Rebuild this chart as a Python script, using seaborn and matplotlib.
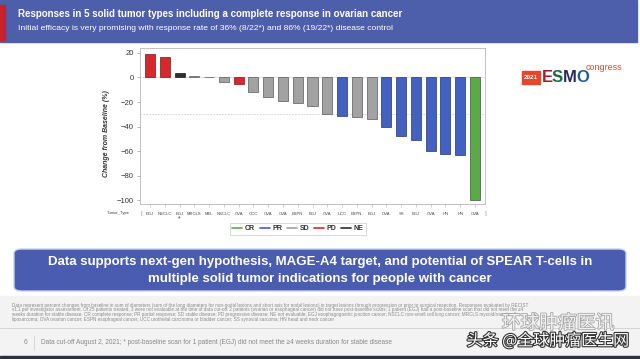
import matplotlib
matplotlib.use('Agg')
import matplotlib.pyplot as plt
import matplotlib.patches as mpatches
import matplotlib.patheffects as pe
from matplotlib.lines import Line2D
import pandas as pd
import seaborn as sns

# Dados (variação percentual vs baseline)
tumor_types = ['EGJ', 'NSCLC', 'EGJ', 'MRCLS', 'MEL', 'NSCLC', 'OVA', 'OCC', 'OVA', 'OVA', 'ESPN',
               'EGJ', 'OVA', 'UCC', 'ESPN', 'EGJ', 'OVA', 'SS', 'EGJ', 'OVA', 'HN', 'HN', 'OVA']
change = [19, 17, 3.5, 1.2, 0, -4, -5.5, -12, -16, -19, -20.5,
          -23.5, -29.5, -31, -32, -34, -40.5, -48, -51, -60, -62.5, -63, -99.5]
response = ['PD', 'PD', 'NE', 'SD', 'SD', 'SD', 'PD', 'SD', 'SD', 'SD', 'SD',
            'SD', 'SD', 'PR', 'SD', 'SD', 'PR', 'PR', 'PR', 'PR', 'PR', 'PR', 'CR']
legend_order = ['CR', 'PR', 'SD', 'PD', 'NE']
palette = {'CR': '#5aab48', 'PR': '#4361c0', 'SD': '#a2a2a2', 'PD': '#d42a2c', 'NE': '#2e2e2e'}

df = pd.DataFrame({'pos': range(len(change)), 'change': change, 'resp': response})

sns.set_style('white')
plt.rcParams['font.family'] = ['Liberation Sans', 'DejaVu Sans']

W, H = 640, 359
fig = plt.figure(figsize=(6.4, 3.59), dpi=100)
fig.patch.set_facecolor('white')


def fx(x):
    return x / W


def fy(y):
    return 1 - y / H


def rect(x0, y0, x1, y1, **kw):
    fig.add_artist(mpatches.Rectangle((fx(x0), fy(y1)), fx(x1) - fx(x0), fy(y0) - fy(y1),
                                      transform=fig.transFigure, **kw))


# Faixa do título
rect(0, 0, 637, 42, color='#4d5fab', zorder=0)
rect(0, 5, 5, 40, color='#c9212b', zorder=1)
fig.text(fx(18), fy(14), 'Responses in 5 solid tumor types including a complete response in ovarian cancer',
         color='white', fontsize=7.0, fontweight='bold', va='center')
fig.text(fx(18), fy(28), 'Initial efficacy is very promising with response rate of 36% (8/22*) and 86% (19/22*) disease control',
         color='white', fontsize=6.1, va='center')

# Gráfico de cascata
ax = fig.add_axes([fx(140), fy(204), fx(485) - fx(140), fy(48) - fy(204)])
sns.barplot(data=df, x='pos', y='change', hue='resp', palette=palette, dodge=False,
            width=0.68, saturation=1, legend=False, ax=ax, linewidth=0.5)
for p in ax.patches:
    r, g, b, a = p.get_facecolor()
    p.set_edgecolor((r * 0.55, g * 0.55, b * 0.55, 1))
ax.set_xlim(-0.68, 22.68)
ax.set_ylim(-103, 24)
ax.axhline(0, color='#d8d8d8', lw=0.5, zorder=0)
ax.axhline(-30, color='#d0d0d0', lw=0.6, ls=(0, (2, 1.5)), zorder=0)
ax.set_yticks([20, 0, -20, -40, -60, -80, -100])
ax.set_xticks(range(len(tumor_types)))
ax.set_xticklabels(tumor_types, fontsize=3, color='#444444')
ax.tick_params(axis='y', labelsize=5.5, colors='#333333', length=2.5, width=0.5, pad=2,
               left=True, color='#999999')
ax.tick_params(axis='x', length=2, width=0.4, pad=4, bottom=True, color='#aaaaaa')
for s in ax.spines.values():
    s.set_color('#b8b8b8')
    s.set_linewidth(0.6)
ax.set_xlabel('')
ax.set_ylabel('')

fig.text(fx(107), fy(134), 'Change from Baseline (%)', rotation=90, fontsize=5, fontstyle='italic',
         fontweight='bold', color='#333333', ha='center', va='center')
fig.text(fx(118), fy(213), 'Tumor_Type', fontsize=3, color='#444444', ha='center', va='center')
fig.text(fx(141), fy(213), '[', fontsize=4.5, color='#999999', ha='center', va='center')
fig.text(fx(486), fy(213), ']', fontsize=4.5, color='#999999', ha='center', va='center')
fig.text(fx(179), fy(219), '*', fontsize=5, color='#444444', ha='center', va='center')

handles = [Line2D([], [], color=palette[k], lw=1.2) for k in legend_order]
leg = fig.legend(handles, legend_order, loc='center', bbox_to_anchor=(fx(298), fy(229)), ncol=5,
                 fontsize=5, frameon=True, handlelength=1.4, handletextpad=0.4, columnspacing=0.7,
                 borderpad=0.3, fancybox=False, edgecolor='#bbbbbb')
leg.get_frame().set_linewidth(0.5)
for t in leg.get_texts():
    t.set_fontweight('bold')
    t.set_color('#333333')

# Logo ESMO
rect(522, 71, 540, 84, color='#e8462a', zorder=1)
fig.text(fx(531), fy(77.5), '2021', color='white', fontsize=4.5, fontweight='bold', ha='center', va='center')
for ch, x, c in [('E', 547, '#a3202f'), ('S', 557.5, '#1d6a45'), ('M', 570, '#2b2a5e'), ('O', 583, '#1f5c9c')]:
    fig.text(fx(x), fy(77.5), ch, color=c, fontsize=12, fontweight='bold', ha='center', va='center')
fig.text(fx(586), fy(68), 'congress', color='#e8462a', fontsize=6.5, ha='left', va='center')

# Caixa azul de conclusão
box = mpatches.FancyBboxPatch((fx(14), fy(291)), fx(626) - fx(14), fy(249) - fy(291),
                              boxstyle='round,pad=0,rounding_size=0.012', transform=fig.transFigure,
                              facecolor='#4a5cb0', edgecolor='#c9d0ea', lw=1)
fig.add_artist(box)
fig.text(0.5, fy(262), 'Data supports next-gen hypothesis, MAGE-A4 target, and potential of SPEAR T-cells in',
         color='white', fontsize=9.5, fontweight='bold', ha='center', va='center')
fig.text(0.5, fy(279), 'multiple solid tumor indications for people with cancer',
         color='white', fontsize=9.5, fontweight='bold', ha='center', va='center')

# Notas de rodapé
rect(0, 296, 640, 356, color='#f3f3f3', zorder=0)
notes = [
    'Data represent percent changes from baseline in sum of diameters (sum of the long diameters for non-nodal lesions and short axis for nodal lesions) in target lesions through progression or prior to surgical resection. Responses evaluated by RECIST',
    'v1.1 per investigator assessment. Of 25 patients treated, 3 were not evaluable at the time of data cut-off: 2 patients (ovarian or esophageal cancer) did not have post-baseline scans; 1 patient (EGJ) had a post-baseline scan that did not meet the \u22654',
    'weeks duration for stable disease. CR complete response; PR partial response; SD stable disease; PD progressive disease; NE not evaluable; EGJ esophagogastric junction cancer; NSCLC non-small cell lung cancer; MRCLS myxoid/round cell',
    'liposarcoma; OVA ovarian cancer; ESPN esophageal cancer; UCC urothelial carcinoma or bladder cancer; SS synovial sarcoma; HN head and neck cancer',
]
for i, line in enumerate(notes):
    fig.text(fx(12), fy(305 + i * 4.7), line, fontsize=3.3, color='#8a8a8a', va='center')

fig.add_artist(Line2D([0, 1], [fy(328), fy(328)], transform=fig.transFigure, color='#d0d0d0', lw=0.6))
fig.text(fx(25), fy(343), '6', fontsize=4.7, color='#888888', ha='center', va='center')
fig.add_artist(Line2D([fx(34), fx(34)], [fy(336), fy(350)], transform=fig.transFigure, color='#cccccc', lw=0.5))
fig.text(fx(41), fy(343), 'Data cut-off August 2, 2021; * post-baseline scan for 1 patient (EGJ) did not meet the \u22654 weeks duration for stable disease',
         fontsize=4.7, color='#888888', va='center')
rect(0, 356, 640, 359, color='#2d3040', zorder=2)

# Marca d'água
fig.text(fx(558), fy(323), '环球肿瘤医讯', fontsize=13.5, color='white', alpha=0.85, ha='center', va='center',
         family=['Noto Sans CJK SC', 'DejaVu Sans'],
         path_effects=[pe.withStroke(linewidth=1.2, foreground='#9a9a9a')])
fig.text(fx(548), fy(341), '头条 @全球肿瘤医生网', fontsize=11.5, color='white', ha='center', va='center',
         family=['Noto Sans CJK SC', 'DejaVu Sans'],
         path_effects=[pe.withStroke(linewidth=1.6, foreground='#333333')])

fig.savefig('out.png', dpi=100)
